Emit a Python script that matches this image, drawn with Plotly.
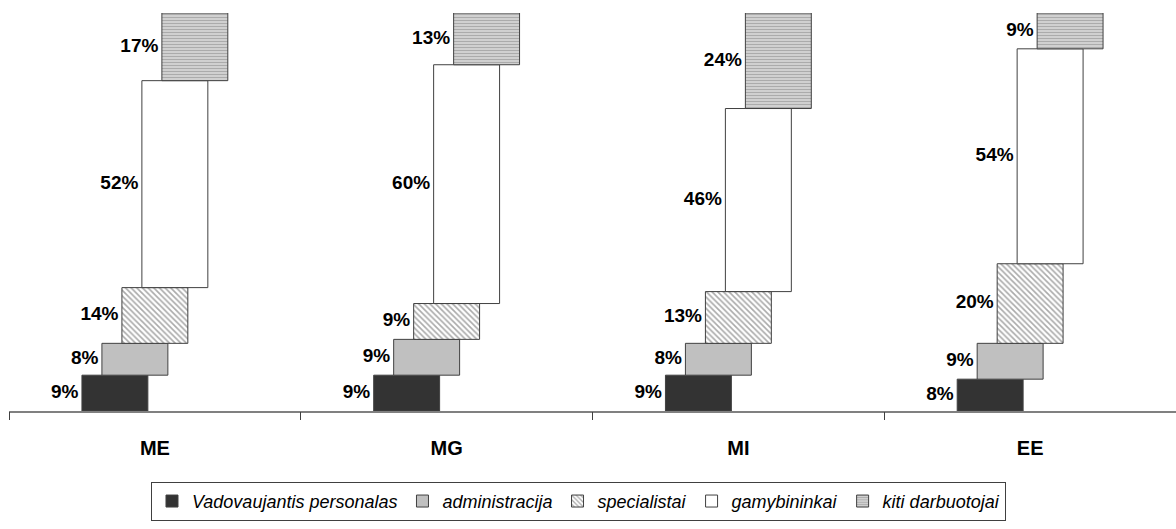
import plotly.graph_objects as go

categories = ["ME", "MG", "MI", "EE"]
series_names = ["Vadovaujantis personalas", "administracija", "specialistai", "gamybininkai", "kiti darbuotojai"]
values = {
    "Vadovaujantis personalas": [9, 9, 9, 8],
    "administracija": [8, 9, 8, 9],
    "specialistai": [14, 9, 13, 20],
    "gamybininkai": [52, 60, 46, 54],
    "kiti darbuotojai": [17, 13, 24, 9],
}

styles = {
    "Vadovaujantis personalas": dict(color="#333333"),
    "administracija": dict(color="#c0c0c0"),
    "specialistai": dict(color="white", pattern=dict(shape="\\", fgcolor="#555555", bgcolor="white", size=4, solidity=0.4)),
    "gamybininkai": dict(color="white"),
    "kiti darbuotojai": dict(color="#b0b0b0", pattern=dict(shape="-", fgcolor="#7a7a7a", bgcolor="#dcdcdc", size=3, solidity=0.5)),
}

bar_w = 0.226
step = 0.0685
label_font = dict(family="Liberation Sans Narrow, Arial Narrow, Liberation Sans, Arial", size=19, color="black", weight="bold")

fig = go.Figure()
cum = [0] * len(categories)
for j, name in enumerate(series_names):
    xs = [i + (j - 2) * step for i in range(len(categories))]
    vals = values[name]
    bases = list(cum)
    fig.add_trace(go.Bar(
        x=xs, y=vals, base=bases, width=bar_w, name=name,
        marker=dict(line=dict(color="#404040", width=1), **styles[name]),
        hoverinfo="skip",
    ))
    fig.add_trace(go.Scatter(
        x=[x - bar_w / 2 - 0.012 for x in xs],
        y=[b + v / 2 for b, v in zip(bases, vals)],
        text=[f"{v}%" for v in vals], mode="text", textposition="middle left",
        textfont=label_font, showlegend=False, hoverinfo="skip",
    ))
    cum = [c + v for c, v in zip(cum, vals)]

n = len(categories)
fig.update_layout(
    width=1176, height=529,
    margin=dict(l=9, r=0, t=13, b=118, autoexpand=False),
    plot_bgcolor="white", paper_bgcolor="white",
    barmode="overlay",
    showlegend=True,
    legend=dict(
        orientation="h", x=0.488, xanchor="center", y=-0.178, yanchor="top",
        bordercolor="#404040", borderwidth=1,
        font=dict(family="Liberation Sans Narrow, Arial Narrow, Liberation Sans, Arial", size=18, style="italic", color="black"),
        traceorder="normal", itemwidth=30,
    ),
    xaxis=dict(
        range=[-0.5, n - 0.5], tickvals=list(range(n)), ticktext=categories,
        ticks="", showgrid=False, zeroline=False, automargin=False,
        showline=True, linecolor="#808080", linewidth=2,
        tickfont=dict(family="Liberation Sans, Arial", size=20, color="black", weight="bold"),
        ticklabelstandoff=18,
    ),
    xaxis2=dict(
        range=[-0.5, n - 0.5], overlaying="x", side="bottom", anchor="y",
        tickvals=[i - 0.5 for i in range(n)], ticks="outside", ticklen=8, automargin=False,
        tickcolor="#404040", showticklabels=False, showgrid=False, zeroline=False,
    ),
    yaxis=dict(range=[0, 100], visible=False, automargin=False),
)
fig.add_trace(go.Scatter(x=[0], y=[0], xaxis="x2", mode="markers", marker=dict(opacity=0), showlegend=False, hoverinfo="skip"))

fig.write_html("out.html", config={"displayModeBar": False},
               post_script="document.body.style.margin='0';document.body.style.overflow='hidden';")
